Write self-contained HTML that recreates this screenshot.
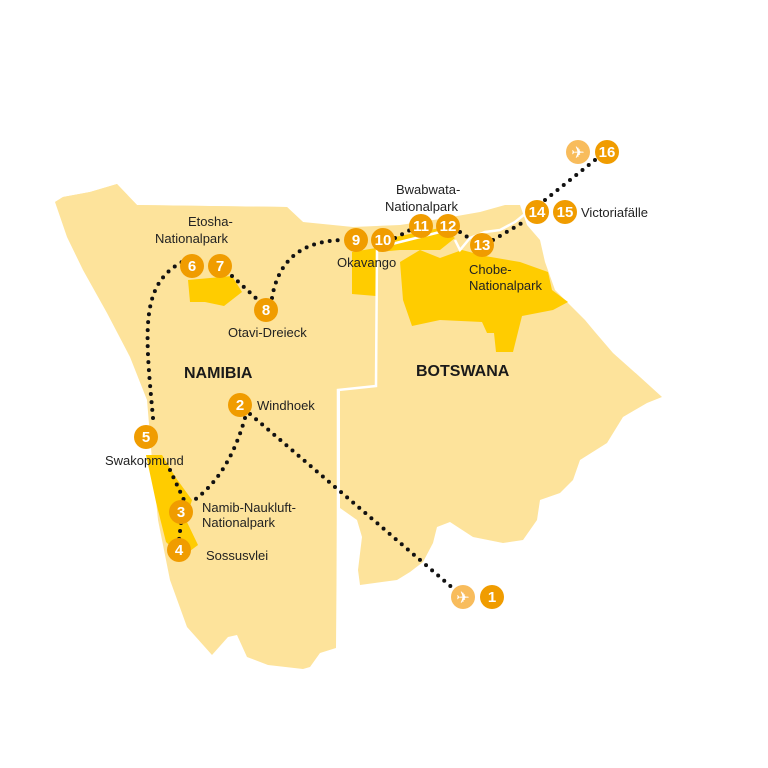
<!DOCTYPE html>
<html><head><meta charset="utf-8"><style>
html,body{margin:0;padding:0;background:#fff}
svg{display:block}
text{font-family:"Liberation Sans",sans-serif;font-size:13px;fill:#222}
.n{font-size:15px;font-weight:bold;fill:#fff;text-anchor:middle}
.b{font-size:16px;font-weight:bold;fill:#1a1a1a}
</style></head><body>
<svg width="768" height="768" viewBox="0 0 768 768">
<g fill="#FDE39B">
<path d="M55,202 L63,197 L90,192 L117,184 L137,205 L287,207 L303,222 L353,227 L400,225 L440,219 L480,212 L505,205 L520,205 L527,225 L540,240 L545,262 L555,290 L585,320 L595,332 L613,353 L640,377 L662,397 L647,403 L623,417 L607,443 L580,460 L573,480 L560,493 L540,500 L537,520 L523,540 L503,543 L473,537 L450,522 L437,527 L433,543 L423,562 L410,572 L397,580 L360,585 L358,570 L362,537 L357,520 L340,508 L340,390 L376,386 L377,250 L340,250 Z"/>
<path d="M55,202 L67,237 L83,270 L107,313 L130,357 L147,400 L152,460 L158,520 L170,580 L187,627 L212,655 L228,637 L237,635 L247,657 L268,665 L303,669 L310,667 L320,653 L336,648 L338,390 L376,386 L377,240 L340,236 L303,222 L287,207 L137,205 L117,184 L90,192 L63,197 Z"/>
</g>
<g fill="#FFCC00">
<path d="M188,280 L232,276 L242,292 L224,306 L205,302 L190,302 Z"/>
<path d="M352,252 L376,248 L376,296 L352,294 Z"/>
<path d="M400,262 L420,250 L440,258 L462,250 L485,256 L520,262 L548,272 L552,290 L568,302 L553,310 L522,316 L513,352 L496,352 L494,333 L487,333 L482,322 L440,320 L412,326 L403,300 Z"/>
<path d="M380,240 L440,228 L455,238 L440,250 L400,250 L378,252 Z"/>
<path d="M146,455 L162,455 L176,478 L192,500 L186,520 L198,545 L182,557 L166,542 L156,502 Z"/>
</g>
<g fill="none" stroke="#fff" stroke-width="2.5">
<path d="M338,650 L338,390 L376,386 L377,250 L392,244 L440,232"/>
<path d="M455,240 L460,250 L470,238 L485,232 L500,230 L515,222 L525,214"/>
</g>
<g fill="none" stroke="#111" stroke-width="4" stroke-linecap="round" stroke-dasharray="0 8">
<path d="M250,414 L455,590"/>
<path d="M245,418 Q228,478 190,503"/>
<path d="M181,523 L179,540"/>
<path d="M170,470 L184,500"/>
<path d="M153,418 C145,330 140,285 182,262"/>
<path d="M232,276 L258,300"/>
<path d="M272,298 C278,262 300,240 345,240"/>
<path d="M395,238 L410,230"/>
<path d="M460,232 L472,240"/>
<path d="M493,240 L527,220"/>
<path d="M545,200 L595,160"/>
</g>
<g fill="#F09C00">
<circle cx="492" cy="597" r="12"/><circle cx="240" cy="405" r="12"/><circle cx="181" cy="512" r="12"/><circle cx="179" cy="550" r="12"/><circle cx="146" cy="437" r="12"/><circle cx="192" cy="266" r="12"/><circle cx="220" cy="266" r="12"/><circle cx="266" cy="310" r="12"/><circle cx="356" cy="240" r="12"/><circle cx="383" cy="240" r="12"/><circle cx="421" cy="226" r="12"/><circle cx="448" cy="226" r="12"/><circle cx="482" cy="245" r="12"/><circle cx="537" cy="212" r="12"/><circle cx="565" cy="212" r="12"/><circle cx="607" cy="152" r="12"/>
</g>
<g fill="#F8BC5C"><circle cx="463" cy="597" r="12"/><circle cx="578" cy="152" r="12"/></g>
<text x="463" y="603" text-anchor="middle" style="fill:#fff;font-size:16px">✈</text>
<text x="578" y="158" text-anchor="middle" style="fill:#fff;font-size:16px">✈</text>
<text class="n" x="492" y="602">1</text><text class="n" x="240" y="410">2</text><text class="n" x="181" y="517">3</text><text class="n" x="179" y="555">4</text><text class="n" x="146" y="442">5</text><text class="n" x="192" y="271">6</text><text class="n" x="220" y="271">7</text><text class="n" x="266" y="315">8</text><text class="n" x="356" y="245">9</text><text class="n" x="383" y="245">10</text><text class="n" x="421" y="231">11</text><text class="n" x="448" y="231">12</text><text class="n" x="482" y="250">13</text><text class="n" x="537" y="217">14</text><text class="n" x="565" y="217">15</text><text class="n" x="607" y="157">16</text>
<text x="188" y="226">Etosha-</text><text x="155" y="243">Nationalpark</text>
<text x="228" y="337">Otavi-Dreieck</text>
<text x="337" y="267">Okavango</text>
<text x="396" y="194">Bwabwata-</text><text x="385" y="211">Nationalpark</text>
<text x="469" y="274">Chobe-</text><text x="469" y="290">Nationalpark</text>
<text x="581" y="217">Victoriafälle</text>
<text x="257" y="410">Windhoek</text>
<text x="105" y="465">Swakopmund</text>
<text x="202" y="512">Namib-Naukluft-</text><text x="202" y="527">Nationalpark</text>
<text x="206" y="560">Sossusvlei</text>
<text class="b" x="184" y="378">NAMIBIA</text>
<text class="b" x="416" y="376">BOTSWANA</text>
</svg>
</body></html>
